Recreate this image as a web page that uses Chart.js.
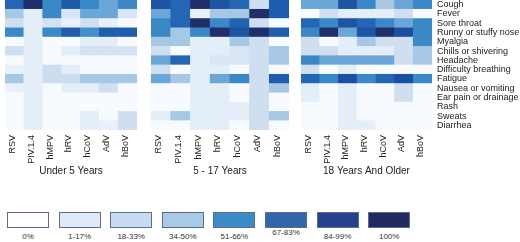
<!DOCTYPE html>
<html>
<head>
<meta charset="utf-8">
<script src="https://cdn.jsdelivr.net/npm/chart.js@4.4.1/dist/chart.umd.min.js"></script>
<style>
  body { margin: 0; background: #fff; font-family: "Liberation Sans", Arial, sans-serif; }
  .panel { position: absolute; top: 0; }
  .key { position: absolute; top: 212px; width: 42px; height: 16px; box-sizing: border-box; border: 1.5px solid #5b6b98; }
  .keyLabel { position: absolute; width: 60px; text-align: center; font-size: 8px; color: #333; }
</style>
</head>
<body>
<div class="panel" style="left:5px"><canvas id="chartUnder5" width="132" height="180"></canvas></div>
<div class="panel" style="left:151px"><canvas id="chart5to17" width="138" height="180"></canvas></div>
<div class="panel" style="left:301px"><canvas id="chartAdults" width="219" height="180"></canvas></div>
<div id="colorKey"></div>

<script>
// heatmap: share of patients with each symptom, per virus and age group (%)

const viruses = ["RSV", "PIV.1.4", "hMPV", "hRV", "hCoV", "AdV", "hBoV"];
const symptoms = ["Cough", "Fever", "Sore throat", "Runny or stuffy nose", "Myalgia", "Chills or shivering",
  "Headache", "Difficulty breathing", "Fatigue", "Nausea or vomiting", "Ear pain or drainage", "Rash",
  "Sweats", "Diarrhea"];

// one row per symptom, columns follow viruses
const under5 = [
  [72, 98, 60, 78, 60, 50, 60],
  [40, 8, 60, 15, 50, 50, 15],
  [20, 8, 17, 6, 20, 6, 0],
  [60, 8, 60, 76, 58, 75, 75],
  [0, 8, 0, 0, 8, 8, 0],
  [20, 8, 0, 8, 18, 18, 18],
  [0, 8, 0, 0, 0, 0, 0],
  [6, 8, 22, 8, 0, 0, 0],
  [40, 8, 22, 22, 40, 40, 40],
  [6, 8, 0, 8, 8, 20, 0],
  [0, 8, 0, 0, 0, 0, 0],
  [0, 8, 0, 0, 0, 0, 0],
  [0, 8, 0, 0, 8, 0, 20],
  [0, 8, 0, 0, 8, 6, 20]
];

const age5to17 = [
  [82, 72, 98, 82, 72, 20, 75],
  [50, 72, 6, 40, 40, 98, 75],
  [60, 72, 98, 60, 73, 20, 0],
  [60, 40, 60, 98, 82, 98, 75],
  [40, 40, 8, 8, 40, 20, 0],
  [20, 0, 8, 8, 15, 20, 40],
  [50, 72, 8, 15, 15, 20, 40],
  [20, 0, 8, 8, 0, 20, 0],
  [50, 40, 8, 50, 60, 20, 75],
  [0, 0, 8, 8, 0, 20, 40],
  [0, 0, 8, 8, 0, 20, 0],
  [0, 0, 8, 8, 8, 20, 0],
  [8, 40, 8, 8, 8, 20, 40],
  [0, 0, 8, 8, 0, 20, 0]
];

const adults = [
  [50, 50, 82, 60, 40, 50, 60],
  [0, 20, 8, 8, 8, 20, 0],
  [72, 60, 82, 72, 60, 50, 60],
  [60, 98, 50, 82, 98, 85, 60],
  [20, 0, 8, 40, 20, 20, 60],
  [20, 20, 8, 8, 8, 20, 40],
  [60, 50, 50, 50, 50, 20, 40],
  [20, 0, 8, 0, 0, 0, 0],
  [72, 60, 85, 60, 72, 85, 60],
  [8, 0, 8, 0, 0, 20, 0],
  [8, 0, 8, 0, 0, 20, 0],
  [0, 0, 8, 0, 0, 0, 0],
  [0, 0, 8, 0, 0, 0, 0],
  [0, 0, 8, 8, 0, 0, 0]
];

const panelTitles = ["Under 5 Years", "5 - 17 Years", "18 Years And Older"];

const keyLabels = ["0%", "1-17%", "18-33%", "34-50%", "51-66%", "67-83%", "84-99%", "100%"];
const keyColors = ["#ffffff", "#dfeaf7", "#c8dbef", "#a7cbe4", "#3a8bc6", "#2f66ac", "#27418e", "#22295e"];

// colour ramp used for the cells
const rampStops = [
  [0, "#f7fbff"], [8, "#e3eef9"], [20, "#cfdff0"], [40, "#a6c8e4"], [50, "#6ba7d6"],
  [60, "#3a88c8"], [75, "#1f5eae"], [85, "#1c4f9e"], [100, "#212a62"]
];

const textColor = "#222";
Chart.defaults.font.family = "'Liberation Sans', Arial, sans-serif";
Chart.defaults.color = textColor;

function hexToRgb(hex) {
  const n = parseInt(hex.slice(1), 16);
  return [(n >> 16) & 255, (n >> 8) & 255, n & 255];
}

function colorFor(v) {
  for (let i = 1; i < rampStops.length; i++) {
    const [v1, c1] = rampStops[i];
    if (v <= v1) {
      const [v0, c0] = rampStops[i - 1];
      const t = (v - v0) / (v1 - v0);
      const a = hexToRgb(c0), b = hexToRgb(c1);
      const mix = a.map((x, k) => Math.round(x + (b[k] - x) * t));
      return `rgb(${mix[0]}, ${mix[1]}, ${mix[2]})`;
    }
  }
  return rampStops[rampStops.length - 1][1];
}

function drawPanel(canvasId, values, title, showRowLabels) {
  // stacked from the bottom, so the last symptom goes first
  const datasets = [];
  for (let r = symptoms.length - 1; r >= 0; r--) {
    datasets.push({
      label: symptoms[r],
      data: viruses.map(() => 1),
      backgroundColor: values[r].map(colorFor),
      borderWidth: 0,
      barPercentage: 1,
      categoryPercentage: 1
    });
  }

  const ctx = document.getElementById(canvasId).getContext("2d");
  new Chart(ctx, {
    type: "bar",
    data: { labels: viruses, datasets: datasets },
    options: {
      responsive: false,
      animation: false,
      layout: { padding: 0 },
      plugins: { legend: { display: false }, tooltip: { enabled: false } },
      scales: {
        x: {
          stacked: true,
          grid: { display: false, drawTicks: false },
          border: { display: false },
          ticks: {
            minRotation: 90, maxRotation: 90, autoSkip: false, padding: 5, labelOffset: -2,
            font: { size: 9 }, color: textColor
          },
          title: { display: true, text: title, font: { size: 10 }, color: textColor, padding: { top: 0, bottom: 3 } },
          afterFit: scale => {
            scale.height = 50;
            scale.paddingLeft = 0;
            scale.paddingRight = 0;
          }
        },
        y: {
          stacked: true,
          min: 0,
          max: symptoms.length,
          display: showRowLabels,
          position: "right",
          grid: { display: false, drawTicks: false },
          border: { display: false },
          afterBuildTicks: axis => {
            axis.ticks = symptoms.map((s, i) => ({ value: symptoms.length - i - 0.5 }));
          },
          ticks: {
            autoSkip: false,
            padding: 5,
            font: { size: 9 },
            color: textColor,
            callback: (val, i) => symptoms[i]
          },
          afterFit: scale => {
            scale.width = showRowLabels ? 88 : 0;
            scale.paddingTop = 0;
            scale.paddingBottom = 0;
          }
        }
      }
    }
  });
}

drawPanel("chartUnder5", under5, panelTitles[0], false);
drawPanel("chart5to17", age5to17, panelTitles[1], false);
drawPanel("chartAdults", adults, panelTitles[2], true);

// colour key under the panels
const keyBox = document.getElementById("colorKey");
keyLabels.forEach((label, i) => {
  const left = 7 + i * 51.6;
  const box = document.createElement("div");
  box.className = "key";
  box.style.left = left + "px";
  box.style.background = keyColors[i];
  keyBox.appendChild(box);

  const txt = document.createElement("div");
  txt.className = "keyLabel";
  txt.textContent = label;
  txt.style.left = (left + 21 - 30) + "px";
  txt.style.top = (label === "67-83%" ? 228 : 232) + "px";
  keyBox.appendChild(txt);
});
</script>
</body>
</html>
